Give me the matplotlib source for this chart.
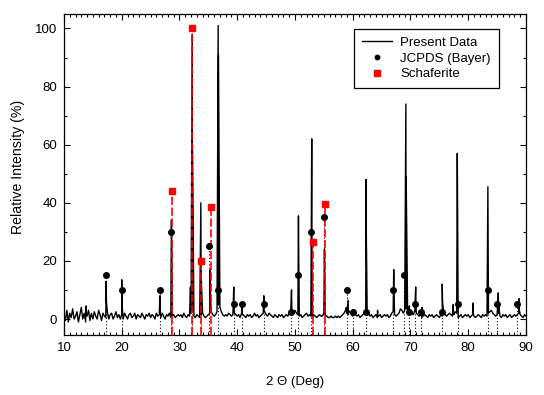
import numpy as np
import matplotlib.pyplot as plt
from matplotlib.ticker import MultipleLocator

# baseline of measured pattern, one value every 0.25 deg from 10 to 90
base_start, base_step = 10.0, 0.25
base_counts = [
    1.5, -0.5, 3, -1, 2, 0.5, 3.5, 0, 1, 2.5, -1, 1.5, 4, 0, 2, -1, 1, 3, -0.5, 2,            # 10-15
    0, 2.5, 1, 0, 3, 1.5, -0.5, 2, 1, 0.5, 2.5, 0, 1.5, 2, 0, 1, 2.5, 0.5, 1.5, 0,             # 15-20
    1.5, 0, 2, 1, 0, 1.5, 2, 0.5, 1, 2, 0, 1.5, 1, 0.5, 2, 1, 0, 1.5, 1, 2,                    # 20-25
    0.5, 1.5, 1, 0, 2, 1, 1.5, 0.5, 2, 1, 0, 1.5, 1, 2, 0.5, 1, 1.5, 0.5, 1, 1.5,              # 25-30
    1, 1.5, 0.5, 2, 1, 0.5, 1.5, 1, 2, 3, 1, 0.5, 1.5, 1, 0.5, 1.5, 2, 1, 0.5, 1,              # 30-35
    1.5, 2, 2.5, 1.5, 1, 1.5, 2.5, 5, 4, 2.5, 1.5, 1, 1.5, 1, 2, 1.5, 1, 1.5, 2, 1.5,          # 35-40
    1, 1.5, 0.5, 2, 1.5, 1, 0.5, 1.5, 1, 1.5, 0.5, 1, 2, 1, 1.5, 0.5, 1, 1.5, 2, 2.5,          # 40-45
    1.5, 1, 2, 1.5, 1, 0.5, 1.5, 1, 0.5, 1.5, 1, 1.5, 0.5, 1, 1.5, 1, 2, 2.5, 1.5, 2,          # 45-50
    3, 2, 1.5, 1, 1.5, 0.5, 1, 1.5, 2, 1, 1.5, 1, 0.5, 1.5, 1, 0.5, 1, 1.5, 1, 1,              # 50-55
    2, 1.5, 1, 0.5, 0.5, 1, 0.5, 0.5, 1, 0.5, 1, 0.5, 1, 1.5, 2, 3, 2, 1.5, 2.5, 1.5,          # 55-60
    1, 2, 1.5, 1, 1.5, 0.5, 1, 1.5, 2, 3, 2.5, 2, 1, 1.5, 0.5, 1, 1.5, 0.5, 1, 1.5,            # 60-65
    0.5, 1, 1.5, 1, 1.5, 0.5, 1, 2, 2.5, 1.5, 1, 1.5, 2, 3.5, 3, 2, 3, 3.5, 2.5, 2,            # 65-70
    1.5, 2, 1.5, 3, 2, 1.5, 1, 1.5, 0.5, 1, 1.5, 1, 0.5, 1.5, 1, 1.5, 0.5, 1, 1.5, 1,          # 70-75
    0.5, 1.5, 1, 2, 1.5, 1, 1.5, 2, 1.5, 1, 1.5, 2.5, 2, 0.5, 1, 1.5, 0.5, 1, 1.5, 1,          # 75-80
    1.5, 0.5, 1, 1.5, 1, 0.5, 1, 1.5, 1, 0.5, 1.5, 1, 1.5, 1, 2, 2.5, 3, 2, 1.5, 1,            # 80-85
    1.5, 2, 1, 0.5, 1.5, 1, 1.5, 0.5, 1, 1.5, 0.5, 1, 1.5, 1, 1.5, 2, 1.5, 1, 0.5, 1.5,        # 85-90
    1,
]

# peaks of the measured pattern (apex and K-alpha2 shoulder)
peak_2theta = [13.8, 17.3, 20.0, 26.6, 28.6, 31.9, 32.2, 33.7, 35.3, 36.7, 39.4, 40.8, 44.6,
               49.4, 50.6, 52.9, 55.1, 58.9, 59.2, 62.3, 64.3, 67.1, 69.2, 69.8, 70.9, 72.0,
               75.5, 77.4, 78.1, 80.8, 83.4, 85.2, 88.8]
peak_top = [4.5, 13, 13.5, 8, 34, 11, 98, 40, 17, 101, 11, 5, 8,
            10, 35.5, 62, 24, 4, 6.5, 48, 3, 17, 74, 4.5, 11, 4,
            12, 5, 57, 5.5, 45.5, 9, 7]
peak_shoulder = [2, 6, 5, 3, 29, 4, 60, 15, 8, 91, 4, 2, 3,
                 4, 21.5, 16, 15, 2, 3, 29.5, 1, 9, 49, 2, 5, 2,
                 6, 2, 40.5, 2, 24, 5, 3]

# JCPDS (Bayer) reference lines
jcpds_2theta = [17.3, 20.0, 26.6, 28.5, 32.2, 33.7, 35.1, 36.7, 39.4, 40.8, 44.6, 49.3, 50.5, 52.8,
                55.0, 59.0, 60.0, 62.3, 67.0, 68.8, 69.7, 70.8, 71.8, 75.5, 78.2, 83.4, 85.0, 88.4]
jcpds_int = [15, 10, 10, 30, 100, 20, 25, 10, 5, 5, 5, 2.5, 15, 30,
             35, 10, 2.5, 2.5, 10, 15, 2.5, 5, 2.5, 2.5, 5, 10, 5, 5]

# Schaferite reference lines
schaf_2theta = [28.7, 32.2, 33.7, 35.4, 53.1, 55.2]
schaf_int = [44, 100, 20, 38.5, 26.5, 39.5]

# build the pattern from baseline points + peak points, in order of angle
base_x = base_start + base_step * np.arange(len(base_counts))
px = list(base_x) + peak_2theta + [p + 0.05 for p in peak_2theta]
py = list(base_counts) + peak_top + peak_shoulder
order = np.argsort(px, kind="stable")
xs = np.array(px)[order]
ys = np.array(py)[order]

plt.rcParams.update({
    "font.family": ["Liberation Sans", "DejaVu Sans"],
    "font.size": 9.5,
})

fig = plt.figure(figsize=(5.44, 3.95), dpi=100)
ax = fig.add_axes([0.1176, 0.1519, 0.8493, 0.8114])

ymin, ymax = -5.5, 104.8

ax.plot(xs, ys, color="black", linewidth=1.0, label="Present Data", zorder=2)

ax.vlines(jcpds_2theta, ymin, jcpds_int, colors="black", linestyles=(0, (1, 2)), linewidth=0.8, zorder=1)
ax.vlines(schaf_2theta, ymin, schaf_int, colors="red", linestyles=(0, (5, 1.5)), linewidth=1.2, zorder=3)

ax.plot(jcpds_2theta, jcpds_int, "o", color="black", markersize=4, linestyle="none",
        label="JCPDS (Bayer)", zorder=4)
ax.plot(schaf_2theta, schaf_int, "s", color="red", markersize=5, linestyle="none",
        label="Schaferite", zorder=5)

ax.set_xlim(10, 90)
ax.set_ylim(ymin, ymax)
ax.xaxis.set_major_locator(MultipleLocator(10))
ax.xaxis.set_minor_locator(MultipleLocator(1))
ax.yaxis.set_major_locator(MultipleLocator(20))
ax.yaxis.set_minor_locator(MultipleLocator(10))
ax.tick_params(which="both", direction="in", top=True, right=True, width=0.8)
ax.tick_params(which="major", length=4, pad=5)
ax.tick_params(which="minor", length=2)
for s in ax.spines.values():
    s.set_linewidth(0.9)

ax.set_xlabel("2 Θ (Deg)", labelpad=16)
ax.set_ylabel("Relative Intensity (%)", fontsize=10.2)
ax.yaxis.set_label_coords(-0.084, 0.523)

leg = ax.legend(loc="upper left", bbox_to_anchor=(0.628, 0.955), borderaxespad=0,
                fancybox=False, framealpha=1, edgecolor="black", handlelength=2.3,
                handletextpad=0.6, labelspacing=0.25, borderpad=0.6, fontsize=9.5,
                markerscale=0.8)
leg.get_frame().set_linewidth(0.9)

plt.savefig("out.png", dpi=100)
